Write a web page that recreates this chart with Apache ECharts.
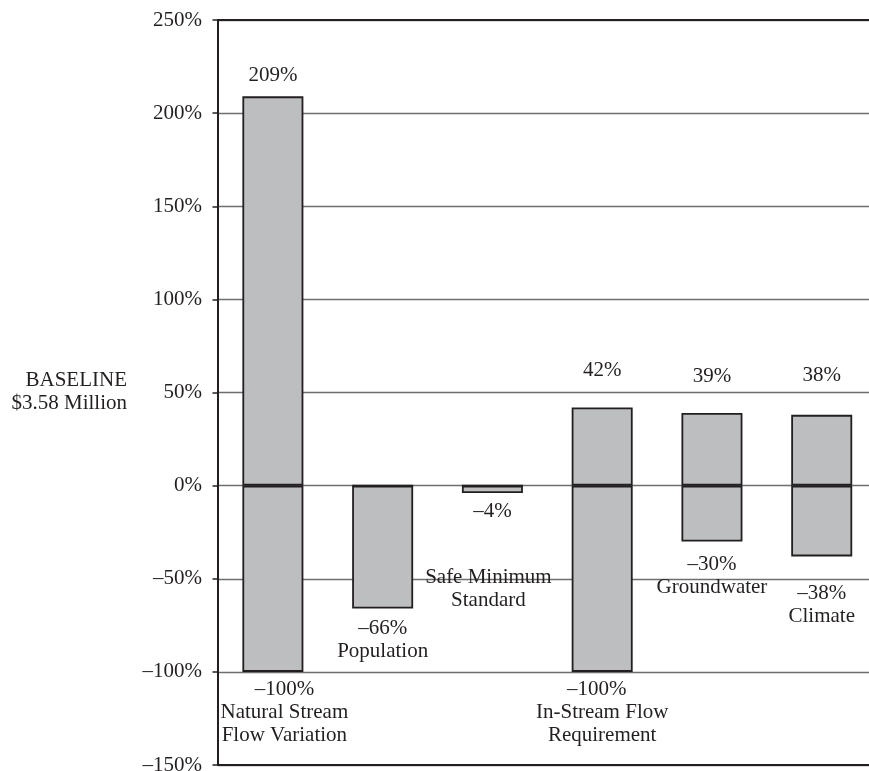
<!DOCTYPE html>
<html>
<head>
<meta charset="utf-8">
<script src="https://cdn.jsdelivr.net/npm/echarts@6/dist/echarts.min.js"></script>
<style>
html,body{margin:0;padding:0;background:#fff;}
#chart{width:869px;height:771px;}
</style>
</head>
<body>
<div id="chart"></div>
<script>
const categories = ['Natural Stream Flow Variation', 'Population', 'Safe Minimum Standard', 'In-Stream Flow Requirement', 'Groundwater', 'Climate'];
const nameLines = [['Natural Stream', 'Flow Variation'], ['Population'], ['Safe Minimum', 'Standard'], ['In-Stream Flow', 'Requirement'], ['Groundwater'], ['Climate']];
const highValues = [209, 0, 0, 42, 39, 38];
const lowValues = [-100, -66, -4, -100, -30, -38];
const yMin = -150, yMax = 250, yStep = 50;
const baselineText = ['BASELINE', '$3.58 Million'];

const FONT = 'Liberation Serif, Times New Roman, serif';
const INK = '#231f20';
const fmt = v => (v < 0 ? '\u2013' + Math.abs(v) : String(v)) + '%';

// label layout (style only)
const topDist = [9, 0, 0, 25.2, 25.5, 28.3];
const bottomDist = [6.6, 8.3, 7.1, 6.6, 11.5, 25.4];
const bottomOffsetX = [11.5, 0, 0, 0, 0, 0];

const richBase = {
  v: { fontFamily: FONT, fontSize: 21, lineHeight: 23, color: INK },
  n: { fontFamily: FONT, fontSize: 21, lineHeight: 23, color: INK },
  g: { lineHeight: 42.7 }
};

const highData = highValues.map((v, i) => ({
  value: v,
  label: { show: v !== 0, distance: topDist[i] }
}));

const lowData = lowValues.map((v, i) => {
  const rich = JSON.parse(JSON.stringify(richBase));
  if (i === 2) rich.n.padding = [0, 8, 0, 0];
  if (i === 3) rich.v.padding = [0, 11, 0, 0];
  let text = '{v|' + fmt(v) + '}';
  if (i === 2) text += '\n{g|}';
  nameLines[i].forEach(l => { text += '\n{n|' + l + '}'; });
  return {
    value: v,
    label: { distance: bottomDist[i], offset: [bottomOffsetX[i], 0], formatter: text, rich: rich }
  };
});

const barStyle = { color: '#bcbec0', borderColor: INK, borderWidth: 1.8 };

const chart = echarts.init(document.getElementById('chart'), null, { renderer: 'canvas' });
chart.setOption({
  animation: false,
  backgroundColor: '#fff',
  grid: { left: 218, width: 658.6, top: 20, bottom: 6, containLabel: false, outerBoundsMode: 'none' },
  xAxis: [
    {
      type: 'category', data: categories, position: 'bottom',
      axisLine: { show: true, onZero: false, lineStyle: { color: INK, width: 2 } },
      axisTick: { show: false }, axisLabel: { show: false }, splitLine: { show: false }
    },
    {
      type: 'category', data: categories, position: 'top',
      axisLine: { show: true, onZero: false, lineStyle: { color: INK, width: 2 } },
      axisTick: { show: false }, axisLabel: { show: false }, splitLine: { show: false }
    }
  ],
  yAxis: {
    type: 'value', min: yMin, max: yMax, interval: yStep,
    axisLine: { show: true, onZero: false, lineStyle: { color: INK, width: 2 } },
    axisTick: { show: true, length: 5.5, lineStyle: { color: INK, width: 1.5 } },
    axisLabel: { margin: 16, color: INK, fontFamily: FONT, fontSize: 21, formatter: v => fmt(v) },
    splitLine: { show: true, lineStyle: { color: '#6d6e71', width: 1.3 } }
  },
  graphic: [{
    type: 'text', x: 127, y: 392,
    style: {
      text: baselineText.join('\n'), fill: INK, font: '21px ' + FONT,
      lineHeight: 23.4, align: 'right', verticalAlign: 'middle'
    }
  }],
  series: [
    {
      type: 'bar', name: 'high', data: highData, barWidth: 61, barGap: '-100%',
      itemStyle: barStyle,
      label: { show: true, position: 'top', color: INK, fontFamily: FONT, fontSize: 21, lineHeight: 23, formatter: p => fmt(p.value) }
    },
    {
      type: 'bar', name: 'low', data: lowData, barWidth: 61, barGap: '-100%',
      itemStyle: barStyle,
      label: { show: true, position: 'bottom', color: INK }
    }
  ]
});
</script>
</body>
</html>
